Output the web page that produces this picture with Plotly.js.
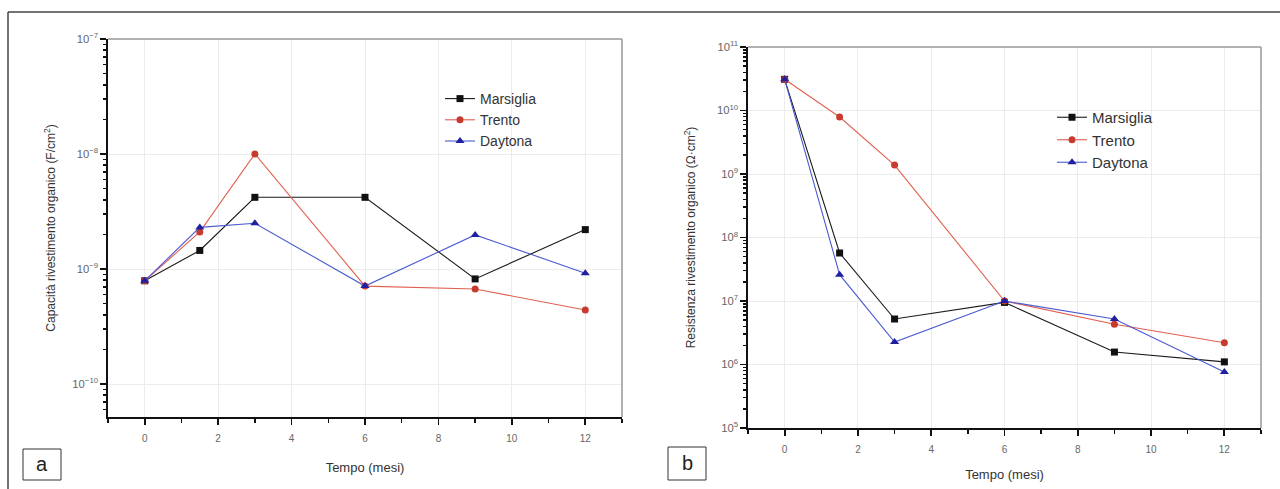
<!DOCTYPE html>
<html>
<head>
<meta charset="utf-8">
<script src="https://cdn.plot.ly/plotly-3.0.1.min.js"></script>
<style>
  html, body { margin: 0; padding: 0; background: #fff; }
  #chart { width: 1280px; height: 489px; }
</style>
</head>
<body>
<div id="chart"></div>
<script>
// Sampling times (months)
const months = [0, 1.5, 3, 6, 9, 12];

// Coating capacitance (F/cm²)
const capMarsiglia = [7.9e-10, 1.45e-9, 4.2e-9, 4.2e-9, 8.2e-10, 2.2e-9];
const capTrento    = [7.9e-10, 2.1e-9, 1.0e-8, 7.1e-10, 6.7e-10, 4.4e-10];
const capDaytona   = [7.9e-10, 2.3e-9, 2.5e-9, 7.1e-10, 1.98e-9, 9.2e-10];

// Coating resistance (Ω·cm²)
const resMarsiglia = [3.1e10, 5.7e7, 5.2e6, 9.5e6, 1.57e6, 1.1e6];
const resTrento    = [3.1e10, 7.9e9, 1.38e9, 1.0e7, 4.3e6, 2.2e6];
const resDaytona   = [3.1e10, 2.6e7, 2.26e6, 1.0e7, 5.2e6, 7.6e5];

const siteNames = ['Marsiglia', 'Trento', 'Daytona'];
const xTickVals = [0, 2, 4, 6, 8, 10, 12];

const styles = [
  { line: '#1a1a1a', marker: '#111111', symbol: 'square' },
  { line: '#e06050', marker: '#c83a2e', symbol: 'circle' },
  { line: '#4a5ad0', marker: '#1f1fa0', symbol: 'triangle-up' }
];

function series(x, y, i, xa, ya, legendId) {
  const s = styles[i];
  return {
    x: x, y: y, name: siteNames[i], type: 'scatter', mode: 'lines+markers',
    xaxis: xa, yaxis: ya, legend: legendId,
    line: { color: s.line, width: 1.1 },
    marker: { color: s.marker, symbol: s.symbol, size: s.symbol === 'triangle-up' ? 8 : 7,
              line: { width: 0 } }
  };
}

// empty helper traces so the minor-tick overlay axes are always laid out
function tickHolder(xa, ya) {
  return { x: [], y: [], type: 'scatter', mode: 'markers', xaxis: xa, yaxis: ya,
           showlegend: false, hoverinfo: 'skip' };
}

const data = [
  series(months, capMarsiglia, 0, 'x', 'y', 'legend'),
  series(months, capTrento,    1, 'x', 'y', 'legend'),
  series(months, capDaytona,   2, 'x', 'y', 'legend'),
  series(months, resMarsiglia, 0, 'x2', 'y2', 'legend2'),
  series(months, resTrento,    1, 'x2', 'y2', 'legend2'),
  series(months, resDaytona,   2, 'x2', 'y2', 'legend2'),
  tickHolder('x', 'y3'),
  tickHolder('x2', 'y4')
];

const FONT = 'Liberation Sans, Arial, sans-serif';
const W = 1280, H = 489;
const px = v => v / W;
const py = v => 1 - v / H;

// minor tick positions 2..9 × 10^k for each decade of a log axis
function logMinorTicks(lo, hi) {
  const out = [];
  for (let k = lo; k < hi; k++) {
    for (let m = 2; m <= 9; m++) out.push(m * Math.pow(10, k));
  }
  return out;
}

function xAxis(domain, anchor, standoff) {
  return {
    domain: domain, anchor: anchor, range: [-1, 13],
    tickmode: 'array', tickvals: xTickVals,
    ticks: 'outside', ticklen: 6, tickwidth: 1.8, tickcolor: '#111',
    ticklabelstandoff: 5,
    minor: { ticks: 'outside', ticklen: 4, tickwidth: 1.5, tickcolor: '#111', dtick: 1, tick0: 1, showgrid: false },
    showline: true, linecolor: '#111', linewidth: 2, mirror: false,
    showgrid: true, gridcolor: '#ececec', gridwidth: 1, zeroline: false,
    tickfont: { family: FONT, size: 10, color: '#666' },
    title: { text: 'Tempo (mesi)', font: { family: FONT, size: 13, color: '#333' }, standoff: standoff }
  };
}

function yAxis(domain, anchor, range, title, standoff) {
  return {
    domain: domain, anchor: anchor, type: 'log', range: range,
    dtick: 1, exponentformat: 'power', showexponent: 'all',
    ticks: 'outside', ticklen: 6, tickwidth: 1.8, tickcolor: '#111',
    showline: true, linecolor: '#111', linewidth: 2, mirror: false,
    showgrid: true, gridcolor: '#ececec', gridwidth: 1, zeroline: false,
    tickfont: { family: FONT, size: 9, color: '#666' },
    title: { text: title, font: { family: FONT, size: 12, color: '#333' }, standoff: standoff }
  };
}

// unlabelled overlay axis carrying the log minor ticks
function yMinorAxis(domain, anchor, overlay, range) {
  return {
    domain: domain, anchor: anchor, overlaying: overlay, side: 'left', type: 'log', range: range,
    tickmode: 'array', tickvals: logMinorTicks(Math.floor(range[0]), Math.ceil(range[1])),
    ticks: 'outside', ticklen: 4, tickwidth: 1.5, tickcolor: '#111',
    showticklabels: false, showgrid: false, showline: false, zeroline: false
  };
}

const capRange = [-10.287, -7];
const resRange = [5, 11];
const dom1 = [py(417), py(39)];
const dom2 = [py(428), py(47)];

const boxStyle = { color: '#999', width: 1.5 };

const layout = {
  width: W, height: H,
  margin: { l: 0, r: 0, t: 0, b: 0 },
  paper_bgcolor: '#fff', plot_bgcolor: '#fff',
  showlegend: true,
  xaxis:  xAxis([px(108), px(622)], 'y', 20),
  yaxis:  yAxis(dom1, 'x', capRange, 'Capacità rivestimento organico (F/cm<sup>2</sup>)', 14),
  yaxis3: yMinorAxis(dom1, 'x', 'y', capRange),
  xaxis2: xAxis([px(748), px(1261)], 'y2', 16),
  yaxis2: yAxis(dom2, 'x2', resRange, 'Resistenza rivestimento organico (Ω·cm<sup>2</sup>)', 19),
  yaxis4: yMinorAxis(dom2, 'x2', 'y2', resRange),
  legend: {
    x: px(440), y: py(83), xanchor: 'left', yanchor: 'top',
    bgcolor: 'rgba(0,0,0,0)', font: { family: FONT, size: 14, color: '#333' },
    itemwidth: 30, tracegroupgap: 0
  },
  legend2: {
    x: px(1052), y: py(101), xanchor: 'left', yanchor: 'top',
    bgcolor: 'rgba(0,0,0,0)', font: { family: FONT, size: 15, color: '#333' },
    itemwidth: 30, tracegroupgap: 0
  },
  shapes: [
    // outer frame (top and left edges)
    { type: 'line', xref: 'paper', yref: 'paper', x0: px(8), x1: 1, y0: py(12), y1: py(12), line: { color: '#444', width: 1.5 } },
    { type: 'line', xref: 'paper', yref: 'paper', x0: px(8), x1: px(8), y0: py(12), y1: 0, line: { color: '#444', width: 1.5 } },
    // grey box edges of each plot area
    { type: 'line', xref: 'x domain', yref: 'y domain', x0: 0, x1: 1, y0: 1, y1: 1, line: boxStyle, layer: 'above' },
    { type: 'line', xref: 'x domain', yref: 'y domain', x0: 1, x1: 1, y0: 0, y1: 1, line: boxStyle, layer: 'above' },
    { type: 'line', xref: 'x2 domain', yref: 'y2 domain', x0: 0, x1: 1, y0: 1, y1: 1, line: boxStyle, layer: 'above' },
    { type: 'line', xref: 'x2 domain', yref: 'y2 domain', x0: 1, x1: 1, y0: 0, y1: 1, line: boxStyle, layer: 'above' },
    // panel letter boxes
    { type: 'rect', xref: 'paper', yref: 'paper', x0: px(23), x1: px(61), y0: py(480), y1: py(449), line: { color: '#333', width: 1 } },
    { type: 'rect', xref: 'paper', yref: 'paper', x0: px(668), x1: px(706), y0: py(480), y1: py(447), line: { color: '#333', width: 1 } }
  ],
  annotations: [
    { xref: 'paper', yref: 'paper', x: px(42), y: py(464), text: 'a', showarrow: false,
      font: { family: FONT, size: 20, color: '#222' }, xanchor: 'center', yanchor: 'middle' },
    { xref: 'paper', yref: 'paper', x: px(687), y: py(463), text: 'b', showarrow: false,
      font: { family: FONT, size: 20, color: '#222' }, xanchor: 'center', yanchor: 'middle' }
  ]
};

Plotly.newPlot('chart', data, layout, { displayModeBar: false, staticPlot: true });
</script>
</body>
</html>
